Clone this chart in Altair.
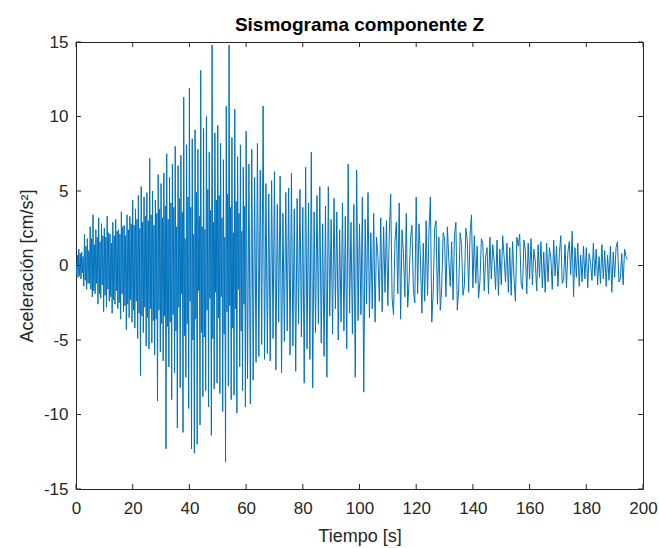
import altair as alt
import pandas as pd
import numpy as np

# Acceleration (cm/s^2), 0-60 s, one sample every 0.25 s
acc_a = [
    0.3, -0.6, 0.7, -0.8, 1.1, -0.7, 0.8, -0.9, 0.9, -0.5, 0.6, -1.4, 2.1, -1.0, 1.3, -1.6, 1.8, -1.2, 1.0, -1.2,
    2.6, -1.6, 1.8, -2.1, 3.4, -1.7, 1.4, -1.9, 2.4, -1.2, 1.9, -2.6, 3.2, -1.9, 1.6, -2.2, 2.8, -1.3, 2.0, -3.1,
    2.5, -2.0, 1.9, -2.8, 3.3, -1.6, 2.2, -2.4, 2.1, -2.1, 1.5, -3.2, 2.9, -2.3, 2.0, -2.6, 3.1, -1.7, 2.3, -2.9,
    2.4, -2.5, 2.1, -3.6, 3.6, -1.9, 2.6, -3.1, 2.7, -2.7, 2.0, -4.3, 3.4, -2.6, 2.4, -3.5, 3.3, -2.3, 2.8, -3.8,
    4.4, -3.0, 2.7, -4.2, 3.8, -2.4, 3.1, -4.9, 4.7, -3.2, 2.5, -7.4, 5.3, -3.4, 2.9, -4.5, 4.6, -2.8, 3.3, -5.4,
    4.9, -3.5, 3.0, -5.6, 7.2, -2.9, 3.4, -5.2, 5.0, -3.7, 2.7, -6.0, 4.4, -3.6, 3.5, -9.1, 6.1, -3.0, 3.8, -5.8,
    5.5, -3.9, 3.2, -6.4, 6.2, -3.4, 4.0, -12.3, 7.5, -4.1, 3.1, -6.8, 5.9, -3.8, 4.2, -9.0, 6.8, -3.3, 3.9, -7.2,
    8.0, -4.4, 2.6, -10.9, 6.7, -2.8, 4.5, -8.2, 7.4, -1.9, 3.6, -11.2, 11.3, -4.7, 1.8, -7.5, 8.1, -3.9, 4.6, -9.6,
    11.9, -2.4, 3.9, -12.3, 8.5, -5.0, 2.1, -12.6, 9.1, -3.6, 4.9, -12.0, 7.8, -1.7, 3.3, -10.7, 13.1, -4.5, 2.6, -8.8,
    9.2, -4.8, 2.4, -8.4, 10.0, -3.0, 5.1, -9.5, 7.6, -2.2, 3.7, -11.4, 14.8, -4.9, 2.9, -8.3, 8.9, -1.8, 4.4, -7.9,
    9.4, -3.5, 4.7, -8.6, 8.2, -2.1, 3.2, -9.8, 7.1, -4.6, 1.9, -13.2, 10.7, -3.1, 4.8, -8.1, 14.8, -2.7, 3.9, -9.0,
    8.6, -4.2, 2.2, -8.7, 10.5, -2.9, 4.3, -9.9, 7.3, -1.6, 3.5, -6.8, 8.1, -4.4, 2.3, -8.4, 6.6, -2.6, 4.0, -9.5,
]
# Acceleration (cm/s^2), 60-194.5 s, one sample every 0.5 s
acc_b = [
    9.0, -7.6, 6.8, -9.3, 7.8, -7.7, 5.9, -6.5, 8.2, -6.1,
    6.4, -5.3, 10.7, -6.3, 5.5, -5.9, 4.8, -6.4, 5.7, -4.9,
    6.3, -7.0, 4.1, -3.8, 6.0, -7.2, 3.5, -5.1, 4.9, -4.4,
    5.2, -6.0, 6.2, -5.4, 3.8, -7.1, 4.5, -3.9, 5.1, -4.8,
    3.9, -7.9, 6.6, -5.6, 4.2, -6.3, 7.6, -8.2, 3.6, -4.5,
    4.7, -3.9, 5.3, -5.2, 2.8, -6.1, 4.0, -7.5, 5.3, -3.4,
    3.1, -4.6, 4.5, -2.9, 3.6, -5.0, 2.4, -3.8, 4.2, -4.4,
    3.3, -5.6, 6.8, -3.2, 2.9, -4.6, 4.1, -7.5, 6.4, -3.7,
    2.8, -3.3, 4.6, -8.5, 3.1, -2.6, 4.9, -3.5, 2.2, -2.9,
    3.5, -3.8, 1.9, 0.6, -2.4, 3.2, -3.1, 2.6, -1.8, 3.0,
    -2.7, 2.1, 4.8, -2.2, -3.3, 1.6, 2.9, -1.9, 4.2, -3.6,
    2.4, 0.8, -2.1, 3.5, -2.8, -1.0, 1.8, 2.7, -1.6, -2.5,
    4.6, -1.9, 2.8, 0.5, -3.2, 1.5, -2.4, 3.0, -2.0, 2.3,
    4.6, -3.8, -1.7, 2.5, 3.0, -2.6, 1.9, -3.0, -1.5, 2.2,
    1.8, -2.1, 2.6, 0.4, -1.4, 1.6, -2.3, 2.0, 2.9, -3.0,
    -1.6, 2.2, 1.4, -2.0, -1.3, 2.5, 1.7, -1.8, 2.1, 3.4,
    -1.5, 2.0, -1.2, 1.3, -2.2, -1.0, 1.8, 1.5, -1.7, 0.6,
    1.2, -1.9, 1.9, -0.9, 1.4, 0.3, -1.6, 1.7, -2.0, 1.1,
    -1.3, 2.0, 0.6, -1.1, 1.5, -1.8, 1.2, -2.0, 1.6, -0.8,
    -2.4, 1.9, 1.3, 2.1, -1.2, -1.6, 1.7, 1.0, -1.9, 1.5,
    -0.9, 1.8, -1.3, 1.1, 0.3, -1.7, 1.4, -0.8, 1.6, -1.5,
    0.9, -1.8, 1.5, -1.1, 1.2, 0.5, -1.6, 1.7, -0.7, 1.3,
    -1.4, 0.8, 2.0, -1.2, -1.0, 1.4, -1.5, 0.9, 1.6, -0.6,
    2.3, -2.1, 1.2, -0.8, 1.5, -1.4, 0.7, -1.1, 1.3, -0.9,
    1.2, -1.5, 0.8, 0.2, -1.0, 1.5, -0.7, 1.1, -1.3, 0.6,
    -1.2, 1.4, -0.9, 1.0, -1.4, 0.7, -1.0, 1.3, -1.8, 0.9,
    -0.8, 1.2, 1.6, -1.1, -0.9, 0.8, -1.3, 1.1, 0.6, 0.4,
]
dt_a, dt_b, t_b0 = 0.25, 0.5, 60.0
x_ticks = [0, 20, 40, 60, 80, 100, 120, 140, 160, 180, 200]
y_ticks = [-15, -10, -5, 0, 5, 10, 15]

W, H = 567, 447
INK = "#262626"
FONT = "Liberation Sans"

t = np.concatenate([np.arange(len(acc_a)) * dt_a, t_b0 + np.arange(len(acc_b)) * dt_b])
df = pd.DataFrame({"t": t, "a": acc_a + acc_b})
xt = pd.DataFrame({"v": x_ticks})
yt = pd.DataFrame({"v": y_ticks})

xs = alt.Scale(domain=[0, 200], nice=False, zero=False)
ys = alt.Scale(domain=[-15, 15], nice=False, zero=False)

line = alt.Chart(df).mark_line(color="#0072BD", strokeWidth=1.0, clip=True).encode(
    x=alt.X("t:Q", scale=xs, title="Tiempo [s]",
            axis=alt.Axis(values=x_ticks, tickSize=0, domain=False, grid=False,
                          labelPadding=11, titlePadding=11, labelFlush=False,
                          labelExpr="'' + datum.value")),
    y=alt.Y("a:Q", scale=ys, title="Aceleración [cm/s²]",
            axis=alt.Axis(values=y_ticks, tickSize=0, domain=False, grid=False,
                          labelPadding=8, titlePadding=7, labelFlush=False,
                          labelExpr="'' + datum.value")),
    order="t:Q",
)

tick_b = alt.Chart(xt).mark_rule(color=INK, strokeWidth=1).encode(
    x=alt.X("v:Q", scale=xs), y=alt.value(H), y2=alt.value(H - 5))
tick_t = alt.Chart(xt).mark_rule(color=INK, strokeWidth=1).encode(
    x=alt.X("v:Q", scale=xs), y=alt.value(0), y2=alt.value(5))
tick_l = alt.Chart(yt).mark_rule(color=INK, strokeWidth=1).encode(
    y=alt.Y("v:Q", scale=ys), x=alt.value(0), x2=alt.value(5))
tick_r = alt.Chart(yt).mark_rule(color=INK, strokeWidth=1).encode(
    y=alt.Y("v:Q", scale=ys), x=alt.value(W), x2=alt.value(W - 5))

chart = alt.layer(line, tick_b, tick_t, tick_l, tick_r).properties(
    width=W, height=H,
    title=alt.TitleParams("Sismograma componente Z", font=FONT, fontSize=19,
                          fontWeight="bold", color="#000000", offset=1, dy=3),
    autosize=alt.AutoSizeParams(type="none"),
    padding={"left": 76, "top": 42, "right": 16, "bottom": 59},
    background="white",
).configure_view(stroke=INK, strokeWidth=1).configure_axis(
    labelFont=FONT, labelFontSize=17, labelColor=INK,
    titleFont=FONT, titleFontSize=18, titleColor=INK, titleFontWeight="normal",
)

chart.save("out.html", embed_options={"renderer": "svg", "actions": False})
